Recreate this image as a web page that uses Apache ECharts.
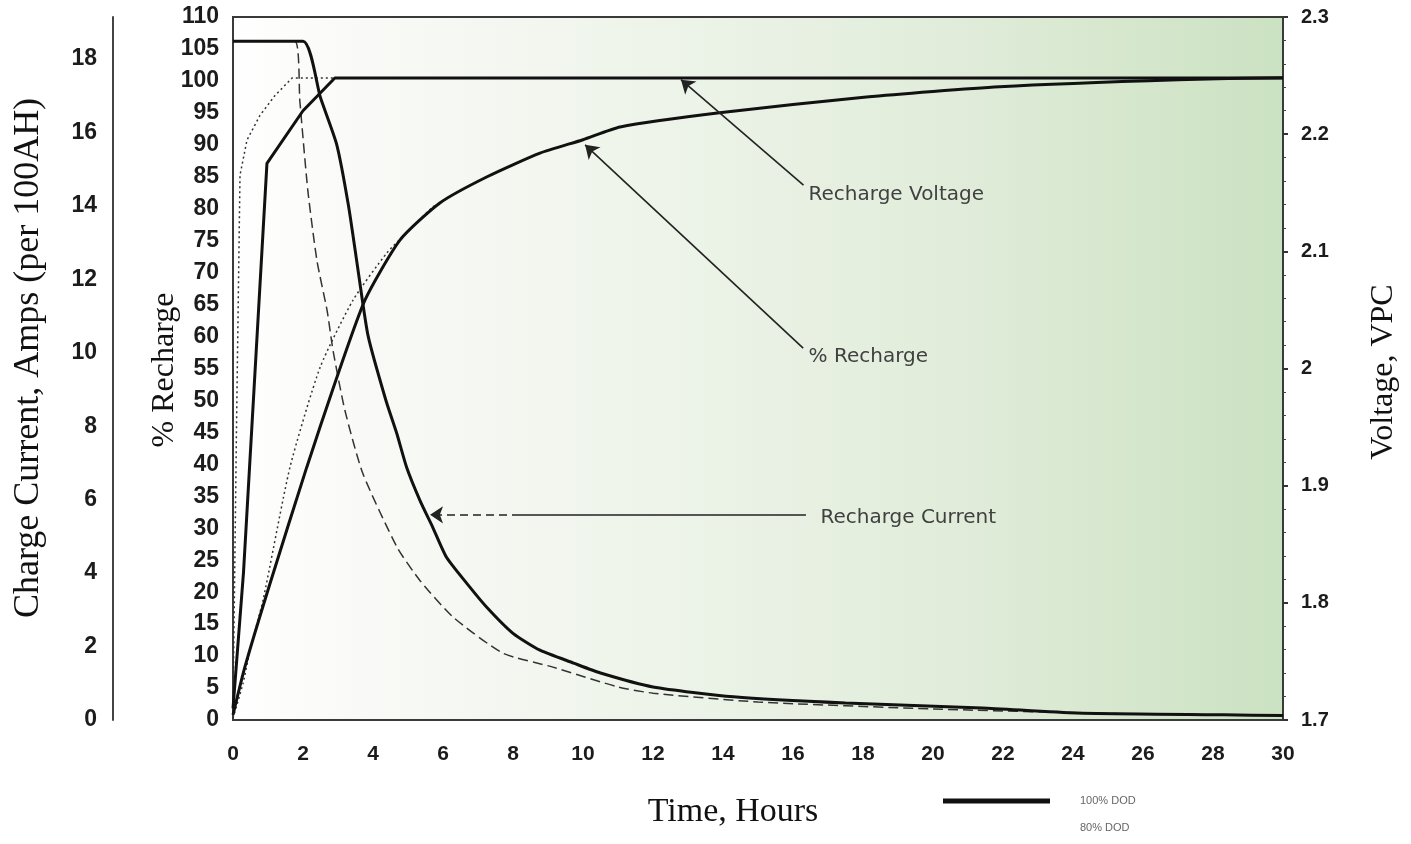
<!DOCTYPE html>
<html>
<head>
<meta charset="utf-8">
<script src="https://cdn.jsdelivr.net/npm/echarts@6/dist/echarts.min.js"></script>
<style>
html,body{margin:0;padding:0;background:#ffffff;}
#c{width:1411px;height:844px;}
</style>
</head>
<body>
<div id="c"></div>
<script>
// ---------- data ----------
// Recharge voltage, VPC
const volt100Hours = [0, 0.3, 0.6, 0.97, 2.0, 2.91, 30];
const volt100Vpc   = [1.71, 1.826, 1.982, 2.175, 2.22, 2.248, 2.248];
const volt80Hours  = [0, 0.1, 0.2, 0.4, 0.77, 1.2, 1.69, 30];
const volt80Vpc    = [1.71, 1.95, 2.165, 2.195, 2.216, 2.233, 2.248, 2.248];

// Recharge current, amps per 100AH
const curr100Hours = [0, 2, 2.5, 2.96, 3.3, 3.58, 3.86, 4.37, 4.68, 4.96, 5.34, 5.71, 6.1, 6.68, 7.25, 8.0, 8.77, 9.73, 10.5, 12, 14.3, 17.5, 21.4, 24.1, 28.3, 30];
const curr100Amps  = [18.48, 18.48, 16.94, 15.68, 14.0, 12.2, 10.46, 8.70, 7.8, 6.88, 5.98, 5.24, 4.43, 3.72, 3.07, 2.36, 1.90, 1.55, 1.28, 0.90, 0.63, 0.46, 0.33, 0.19, 0.14, 0.12];
const curr80Hours  = [0, 1.77, 1.91, 2.14, 2.4, 2.69, 2.86, 3.2, 3.71, 4.69, 5.34, 6.29, 7.71, 9.14, 11.0, 12.0, 15.0, 20, 25, 30];
const curr80Amps   = [18.48, 18.48, 16.85, 14.4, 12.5, 11.14, 10.05, 8.42, 6.71, 4.70, 3.80, 2.80, 1.82, 1.44, 0.9, 0.73, 0.49, 0.3, 0.18, 0.12];

// % Recharge
const rech100Hours = [0, 0.34, 1.06, 2.11, 2.91, 3.77, 4.77, 5.91, 7.26, 8.77, 10.0, 11.06, 13.9, 18.1, 21.9, 27, 30];
const rech100Pct   = [0.8, 8.3, 21.4, 39.6, 52.7, 65.7, 75.1, 80.9, 85.0, 88.7, 90.8, 92.8, 95.0, 97.5, 99.1, 100.2, 100.5];
const rech80Hours  = [0, 0.29, 0.49, 0.86, 1.63, 2.49, 3.43, 4.4, 5.14, 5.71, 5.91];
const rech80Pct    = [0.3, 5.8, 11.0, 18.8, 39.6, 55.2, 65.7, 73.1, 77.2, 80.3, 80.9];

// axes
const hourRange    = [0, 30, 2];
const pctRange     = [0, 110, 5];
const ampRange     = [0, 19.14, 2];
const voltRange    = [1.7, 2.3, 0.1];

// annotations (hours, % recharge)
const annotLabels = [
  {name: 'Recharge Voltage', at: [16.43, 82.2]},
  {name: '% Recharge',       at: [16.43, 56.8]},
  {name: 'Recharge Current', at: [16.77, 31.6]}
];
const annotArrows = [
  {from: [16.3, 83.7], to: [12.8, 100.2], dashed: false, arrow: true},
  {from: [16.29, 58.2], to: [10.06, 90.0], dashed: false, arrow: true},
  {from: [16.37, 32.1], to: [8.2, 32.1], dashed: false, arrow: false},
  {from: [8.2, 32.1], to: [5.63, 32.1], dashed: true, arrow: true}
];
const legendLabels = ['100% DOD', '80% DOD'];

// ---------- chart ----------
const zip = (a, b) => a.map((t, i) => [t, b[i]]);
const tickFont = '"Liberation Sans", Arial, sans-serif';
const noteFont = '"DejaVu Sans", Arial, sans-serif';
const titleFont = '"Liberation Serif", "Times New Roman", serif';
const labelStyle = (size, margin) => ({
  fontFamily: tickFont, fontSize: size, fontWeight: 'bold', color: '#1c1c1c', margin: margin
});

const chart = echarts.init(document.getElementById('c'));
const option = {
  animation: false,
  grid: {
    left: 233, right: 128, top: 17, bottom: 124,
    show: true, borderColor: '#3a3a3a', borderWidth: 2,
    backgroundColor: {
      type: 'linear', x: 0, y: 0, x2: 1, y2: 0,
      colorStops: [
        {offset: 0, color: '#ffffff'},
        {offset: 0.08, color: '#fbfbf9'},
        {offset: 0.4, color: '#eef4ea'},
        {offset: 0.7, color: '#e0ecd9'},
        {offset: 1, color: '#cbe2c2'}
      ]
    }
  },
  xAxis: {
    type: 'value', min: hourRange[0], max: hourRange[1], interval: hourRange[2],
    axisLine: {show: false}, axisTick: {show: false}, splitLine: {show: false},
    axisLabel: labelStyle(21, 24)
  },
  yAxis: [
    {
      type: 'value', position: 'left', offset: 120,
      min: ampRange[0], max: ampRange[1], interval: ampRange[2],
      axisLine: {show: true, onZero: false, lineStyle: {color: '#444', width: 2}},
      axisTick: {show: false}, splitLine: {show: false},
      axisLabel: Object.assign(labelStyle(23, 16), {
        formatter: v => (Math.abs(v % 2) < 1e-9 ? String(v) : '')
      })
    },
    {
      type: 'value', position: 'left', offset: 0,
      min: pctRange[0], max: pctRange[1], interval: pctRange[2],
      axisLine: {show: false, onZero: false}, axisTick: {show: false}, splitLine: {show: false},
      axisLabel: labelStyle(23, 14)
    },
    {
      type: 'value', position: 'right',
      min: voltRange[0], max: voltRange[1], interval: voltRange[2],
      axisLine: {show: false, onZero: false},
      axisTick: {show: true, length: 5, lineStyle: {color: '#333', width: 2}},
      minorTick: {show: true, splitNumber: 5, length: 3, lineStyle: {color: '#444'}},
      splitLine: {show: false},
      axisLabel: labelStyle(20, 18)
    }
  ],
  series: [
    {
      name: 'Voltage 80% DOD', type: 'line', yAxisIndex: 2,
      data: zip(volt80Hours, volt80Vpc), symbol: 'none',
      lineStyle: {color: '#333', width: 1.5, type: [2, 3]}, z: 3
    },
    {
      name: 'Current 80% DOD', type: 'line', yAxisIndex: 0,
      data: zip(curr80Hours, curr80Amps), symbol: 'none', smooth: 0.2,
      lineStyle: {color: '#333', width: 1.5, type: [10, 5]}, z: 3
    },
    {
      name: 'Recharge 80% DOD', type: 'line', yAxisIndex: 1,
      data: zip(rech80Hours, rech80Pct), symbol: 'none', smooth: 0.2,
      lineStyle: {color: '#333', width: 1.5, type: [2, 3]}, z: 3
    },
    {
      name: 'Voltage 100% DOD', type: 'line', yAxisIndex: 2,
      data: zip(volt100Hours, volt100Vpc), symbol: 'none',
      lineStyle: {color: '#111', width: 3}, z: 4
    },
    {
      name: 'Current 100% DOD', type: 'line', yAxisIndex: 0,
      data: zip(curr100Hours, curr100Amps), symbol: 'none', smooth: 0.2,
      lineStyle: {color: '#111', width: 3}, z: 4
    },
    {
      name: 'Recharge 100% DOD', type: 'line', yAxisIndex: 1,
      data: zip(rech100Hours, rech100Pct), symbol: 'none', smooth: 0.2,
      lineStyle: {color: '#111', width: 3}, z: 4,
      markLine: {
        silent: true, animation: false, symbolSize: 13,
        label: {show: false},
        lineStyle: {color: '#222', width: 1.6, type: 'solid'},
        data: annotArrows.map(a => [
          {coord: a.from, symbol: 'none', lineStyle: {type: a.dashed ? [8, 5] : 'solid', color: '#222', width: 1.6}},
          {coord: a.to, symbol: a.arrow ? 'arrow' : 'none'}
        ])
      },
      markPoint: {
        silent: true, animation: false, symbol: 'circle', symbolSize: 1,
        itemStyle: {color: 'rgba(0,0,0,0)'},
        label: {
          show: true, position: 'right', distance: 0,
          formatter: p => p.name,
          fontFamily: noteFont, fontSize: 20, color: '#404040'
        },
        data: annotLabels.map(l => ({name: l.name, coord: l.at}))
      }
    }
  ],
  graphic: [
    {type: 'text', x: 29, y: 358, rotation: Math.PI / 2,
     style: {text: 'Charge Current, Amps (per 100AH)', font: '36px ' + titleFont, fill: '#111',
             align: 'center', verticalAlign: 'middle', textAlign: 'center', textVerticalAlign: 'middle'}},
    {type: 'text', x: 165, y: 370, rotation: Math.PI / 2,
     style: {text: '% Recharge', font: '32px ' + titleFont, fill: '#111',
             align: 'center', verticalAlign: 'middle', textAlign: 'center', textVerticalAlign: 'middle'}},
    {type: 'text', x: 1384, y: 372, rotation: Math.PI / 2,
     style: {text: 'Voltage, VPC', font: '32px ' + titleFont, fill: '#111',
             align: 'center', verticalAlign: 'middle', textAlign: 'center', textVerticalAlign: 'middle'}},
    {type: 'text', x: 733, y: 812,
     style: {text: 'Time, Hours', font: '34px ' + titleFont, fill: '#111',
             align: 'center', verticalAlign: 'middle', textAlign: 'center', textVerticalAlign: 'middle'}},
    {type: 'line', shape: {x1: 943, y1: 801, x2: 1050, y2: 801}, style: {stroke: '#111', lineWidth: 5}},
    {type: 'text', x: 1080, y: 801,
     style: {text: legendLabels[0], font: '11px ' + tickFont, fill: '#666',
             align: 'left', verticalAlign: 'middle', textAlign: 'left', textVerticalAlign: 'middle'}},
    {type: 'text', x: 1080, y: 828,
     style: {text: legendLabels[1], font: '11px ' + tickFont, fill: '#666',
             align: 'left', verticalAlign: 'middle', textAlign: 'left', textVerticalAlign: 'middle'}}
  ]
};
chart.setOption(option);
</script>
</body>
</html>
